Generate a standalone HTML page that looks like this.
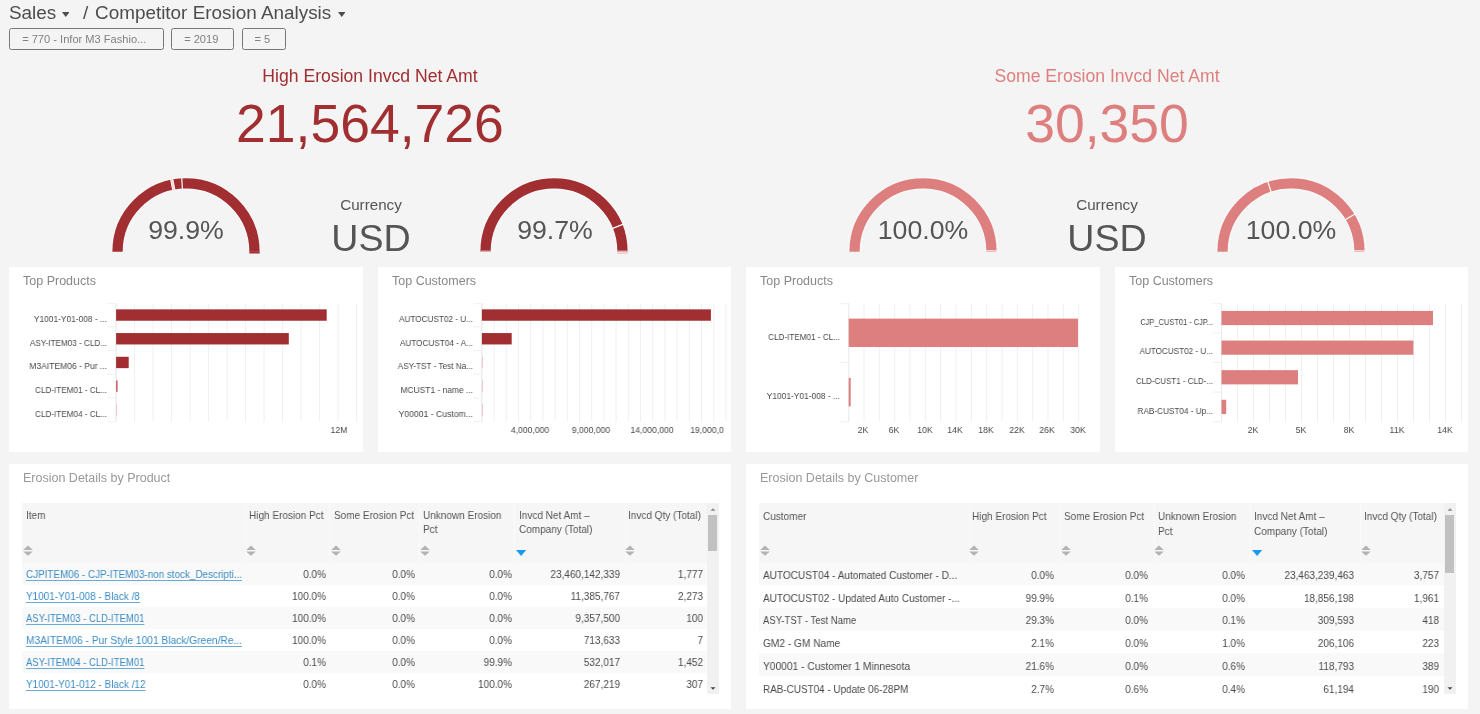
<!DOCTYPE html>
<html><head><meta charset="utf-8"><style>
html,body{margin:0;padding:0;}
body{width:1480px;height:714px;background:#f4f4f4;position:relative;overflow:hidden;font-family:"Liberation Sans",sans-serif;}
.t{position:absolute;white-space:nowrap;will-change:transform;}
.r{position:absolute;}
.filt{box-sizing:border-box;border:1.4px solid #777;border-radius:2.5px;}
</style></head><body>
<div class="t" style="left:9.3px;top:3.80px;font-size:18.9px;line-height:18.9px;color:#4d4d4d;">Sales</div>
<div class="t" style="left:82.8px;top:3.80px;font-size:18.9px;line-height:18.9px;color:#4d4d4d;">/</div>
<div class="t" style="left:95.2px;top:3.80px;font-size:18.9px;line-height:18.9px;color:#4d4d4d;">Competitor Erosion Analysis</div>
<svg class="r" style="left:61.8px;top:11.8px" width="7.5" height="5"><path d="M0 0H7.5L3.75 5Z" fill="#4d4d4d"/></svg>
<svg class="r" style="left:337.5px;top:12px" width="7.5" height="5"><path d="M0 0H7.5L3.75 5Z" fill="#4d4d4d"/></svg>
<div class="r filt" style="left:9px;top:28px;width:154.5px;height:21.5px;"></div>
<div class="t" style="left:7.299999999999997px;width:154.5px;text-align:center;top:33.90px;font-size:11.1px;line-height:11.1px;color:#808080;">= 770 - Infor M3 Fashio...</div>
<div class="r filt" style="left:171.2px;top:28px;width:62.5px;height:21.5px;"></div>
<div class="t" style="left:169.5px;width:62.5px;text-align:center;top:33.90px;font-size:11.1px;line-height:11.1px;color:#808080;">= 2019</div>
<div class="r filt" style="left:241.5px;top:28px;width:44.5px;height:21.5px;"></div>
<div class="t" style="left:239.8px;width:44.5px;text-align:center;top:33.90px;font-size:11.1px;line-height:11.1px;color:#808080;">= 5</div>
<div class="t" style="left:170.2px;width:400px;text-align:center;top:67.78px;font-size:17.62px;line-height:17.62px;color:#a12e30;">High Erosion Invcd Net Amt</div>
<div class="t" style="left:119.69999999999999px;width:500px;text-align:center;top:96.81px;font-size:53.5px;line-height:53.5px;color:#a12e30;">21,564,726</div>
<svg class="r" style="left:106.0px;top:170px" width="160" height="90"><path d="M11.5 81.8 A68.5 68.5 0 0 1 148.5 81.8" fill="none" stroke="#fff" stroke-width="11.700000000000001"/><path d="M11.5 81.8 A68.5 68.5 0 0 1 148.5 81.8" fill="none" stroke="#a12e30" stroke-width="10.3"/><line x1="67.89" y1="20.34" x2="65.50" y2="8.27" stroke="#fff" stroke-width="3.2"/><line x1="67.89" y1="20.34" x2="65.50" y2="8.27" stroke="#f3d0d0" stroke-width="1.4"/><line x1="76.41" y1="19.25" x2="75.70" y2="6.97" stroke="#fff" stroke-width="1.2"/><rect x="143.35" y="81.50" width="10.3" height="2" fill="#a12e30"/></svg>
<svg class="r" style="left:474.29999999999995px;top:170px" width="160" height="90"><path d="M11.5 81.8 A68.5 68.5 0 0 1 148.5 81.8" fill="none" stroke="#fff" stroke-width="11.700000000000001"/><path d="M11.5 81.8 A68.5 68.5 0 0 1 148.5 81.8" fill="none" stroke="#a12e30" stroke-width="10.3"/><line x1="138.01" y1="58.65" x2="149.46" y2="54.14" stroke="#fff" stroke-width="1.2"/><rect x="6.35" y="80.60" width="10.3" height="1.2" fill="#e8c0c0"/><rect x="143.35" y="80.60" width="10.3" height="1.2" fill="#e8c0c0"/><rect x="143.35" y="82.60" width="10.3" height="1" fill="#e8b0b0"/></svg>
<div class="t" style="left:106.0px;width:160px;text-align:center;top:217.00px;font-size:26.7px;line-height:26.7px;color:#555;">99.9%</div>
<div class="t" style="left:474.5px;width:160px;text-align:center;top:217.00px;font-size:26.7px;line-height:26.7px;color:#555;">99.7%</div>
<div class="t" style="left:290.5px;width:160px;text-align:center;top:197.43px;font-size:15.2px;line-height:15.2px;color:#555;">Currency</div>
<div class="t" style="left:290.5px;width:160px;text-align:center;top:220.17px;font-size:37.6px;line-height:37.6px;color:#555;">USD</div>
<div class="t" style="left:906.9000000000001px;width:400px;text-align:center;top:67.78px;font-size:17.62px;line-height:17.62px;color:#de7f7f;">Some Erosion Invcd Net Amt</div>
<div class="t" style="left:857.2px;width:500px;text-align:center;top:96.81px;font-size:53.5px;line-height:53.5px;color:#de7f7f;">30,350</div>
<svg class="r" style="left:842.7px;top:170px" width="160" height="90"><path d="M11.5 81.8 A68.5 68.5 0 0 1 148.5 81.8" fill="none" stroke="#fff" stroke-width="11.700000000000001"/><path d="M11.5 81.8 A68.5 68.5 0 0 1 148.5 81.8" fill="none" stroke="#de7f7f" stroke-width="10.3"/><rect x="143.35" y="80.30" width="10.3" height="1" fill="#fff"/></svg>
<svg class="r" style="left:1211.4px;top:170px" width="160" height="90"><path d="M11.5 81.8 A68.5 68.5 0 0 1 148.5 81.8" fill="none" stroke="#fff" stroke-width="11.700000000000001"/><path d="M11.5 81.8 A68.5 68.5 0 0 1 148.5 81.8" fill="none" stroke="#de7f7f" stroke-width="10.3"/><line x1="60.32" y1="22.34" x2="56.44" y2="10.67" stroke="#fff" stroke-width="1.2"/><line x1="133.83" y1="50.04" x2="144.45" y2="43.84" stroke="#fff" stroke-width="1.2"/><rect x="143.35" y="80.30" width="10.3" height="1" fill="#fff"/></svg>
<div class="t" style="left:842.7px;width:160px;text-align:center;top:217.00px;font-size:26.7px;line-height:26.7px;color:#555;">100.0%</div>
<div class="t" style="left:1211.2px;width:160px;text-align:center;top:217.00px;font-size:26.7px;line-height:26.7px;color:#555;">100.0%</div>
<div class="t" style="left:1027.2px;width:160px;text-align:center;top:197.43px;font-size:15.2px;line-height:15.2px;color:#555;">Currency</div>
<div class="t" style="left:1027.2px;width:160px;text-align:center;top:220.17px;font-size:37.6px;line-height:37.6px;color:#555;">USD</div>
<div class="r" style="left:9px;top:267px;width:354px;height:185px;background:#fff;"></div>
<div class="t" style="left:23px;top:274.72px;font-size:12.5px;line-height:12.5px;color:#888;">Top Products</div>
<svg class="r" style="left:0;top:0" width="1480" height="714"><rect x="115.60" y="303.2" width="1" height="118.5" fill="#f0f0f0"/><rect x="134.10" y="303.2" width="1" height="118.5" fill="#f0f0f0"/><rect x="152.60" y="303.2" width="1" height="118.5" fill="#f0f0f0"/><rect x="171.10" y="303.2" width="1" height="118.5" fill="#f0f0f0"/><rect x="189.60" y="303.2" width="1" height="118.5" fill="#f0f0f0"/><rect x="208.10" y="303.2" width="1" height="118.5" fill="#f0f0f0"/><rect x="226.60" y="303.2" width="1" height="118.5" fill="#f0f0f0"/><rect x="245.10" y="303.2" width="1" height="118.5" fill="#f0f0f0"/><rect x="263.60" y="303.2" width="1" height="118.5" fill="#f0f0f0"/><rect x="282.10" y="303.2" width="1" height="118.5" fill="#f0f0f0"/><rect x="300.60" y="303.2" width="1" height="118.5" fill="#f0f0f0"/><rect x="319.10" y="303.2" width="1" height="118.5" fill="#f0f0f0"/><rect x="337.60" y="303.2" width="1" height="118.5" fill="#f0f0f0"/><rect x="356.10" y="303.2" width="1" height="118.5" fill="#f0f0f0"/><rect x="107.60" y="303.2" width="8" height="1" fill="#f0f0f0"/><rect x="107.60" y="326.40" width="8" height="1" fill="#f0f0f0"/><rect x="107.60" y="350.10" width="8" height="1" fill="#f0f0f0"/><rect x="107.60" y="373.80" width="8" height="1" fill="#f0f0f0"/><rect x="107.60" y="397.50" width="8" height="1" fill="#f0f0f0"/><rect x="107.60" y="421.20" width="8" height="1" fill="#f0f0f0"/><rect x="115.60" y="303.2" width="1" height="118.5" fill="#ebebeb"/><rect x="116.10" y="309.36" width="210.60" height="11.38" fill="#a12e30"/><rect x="116.10" y="333.06" width="172.70" height="11.38" fill="#a12e30"/><rect x="116.10" y="356.76" width="12.60" height="11.38" fill="#a12e30"/><rect x="116.10" y="380.46" width="1.50" height="11.38" fill="#c55a5d"/><rect x="116.10" y="404.16" width="1.00" height="11.38" fill="#f2c4c4"/></svg>
<div class="t" style="left:-12.900000000000006px;width:120px;text-align:right;transform:scaleX(0.932);transform-origin:right;top:314.83px;font-size:9px;line-height:9px;color:#484848;">Y1001-Y01-008 - ...</div>
<div class="t" style="left:-12.900000000000006px;width:120px;text-align:right;transform:scaleX(0.904);transform-origin:right;top:338.53px;font-size:9px;line-height:9px;color:#484848;">ASY-ITEM03 - CLD...</div>
<div class="t" style="left:-12.900000000000006px;width:120px;text-align:right;transform:scaleX(0.947);transform-origin:right;top:362.23px;font-size:9px;line-height:9px;color:#484848;">M3AITEM06 - Pur ...</div>
<div class="t" style="left:-12.900000000000006px;width:120px;text-align:right;transform:scaleX(0.905);transform-origin:right;top:385.93px;font-size:9px;line-height:9px;color:#484848;">CLD-ITEM01 - CL...</div>
<div class="t" style="left:-12.900000000000006px;width:120px;text-align:right;transform:scaleX(0.905);transform-origin:right;top:409.63px;font-size:9px;line-height:9px;color:#484848;">CLD-ITEM04 - CL...</div>
<div class="t" style="left:298.5px;width:80px;text-align:center;transform:scaleX(0.96);transform-origin:center;top:426.38px;font-size:9px;line-height:9px;color:#484848;">12M</div>
<div class="r" style="left:378px;top:267px;width:353px;height:185px;background:#fff;"></div>
<div class="t" style="left:392px;top:274.72px;font-size:12.5px;line-height:12.5px;color:#888;">Top Customers</div>
<svg class="r" style="left:0;top:0" width="1480" height="714"><rect x="481.40" y="303.2" width="1" height="118.5" fill="#f0f0f0"/><rect x="493.60" y="303.2" width="1" height="118.5" fill="#f0f0f0"/><rect x="505.80" y="303.2" width="1" height="118.5" fill="#f0f0f0"/><rect x="518.00" y="303.2" width="1" height="118.5" fill="#f0f0f0"/><rect x="530.20" y="303.2" width="1" height="118.5" fill="#f0f0f0"/><rect x="542.40" y="303.2" width="1" height="118.5" fill="#f0f0f0"/><rect x="554.60" y="303.2" width="1" height="118.5" fill="#f0f0f0"/><rect x="566.80" y="303.2" width="1" height="118.5" fill="#f0f0f0"/><rect x="579.00" y="303.2" width="1" height="118.5" fill="#f0f0f0"/><rect x="591.20" y="303.2" width="1" height="118.5" fill="#f0f0f0"/><rect x="603.40" y="303.2" width="1" height="118.5" fill="#f0f0f0"/><rect x="615.60" y="303.2" width="1" height="118.5" fill="#f0f0f0"/><rect x="627.80" y="303.2" width="1" height="118.5" fill="#f0f0f0"/><rect x="640.00" y="303.2" width="1" height="118.5" fill="#f0f0f0"/><rect x="652.20" y="303.2" width="1" height="118.5" fill="#f0f0f0"/><rect x="664.40" y="303.2" width="1" height="118.5" fill="#f0f0f0"/><rect x="676.60" y="303.2" width="1" height="118.5" fill="#f0f0f0"/><rect x="688.80" y="303.2" width="1" height="118.5" fill="#f0f0f0"/><rect x="701.00" y="303.2" width="1" height="118.5" fill="#f0f0f0"/><rect x="713.20" y="303.2" width="1" height="118.5" fill="#f0f0f0"/><rect x="725.40" y="303.2" width="1" height="118.5" fill="#f0f0f0"/><rect x="473.40" y="303.2" width="8" height="1" fill="#f0f0f0"/><rect x="473.40" y="326.40" width="8" height="1" fill="#f0f0f0"/><rect x="473.40" y="350.10" width="8" height="1" fill="#f0f0f0"/><rect x="473.40" y="373.80" width="8" height="1" fill="#f0f0f0"/><rect x="473.40" y="397.50" width="8" height="1" fill="#f0f0f0"/><rect x="473.40" y="421.20" width="8" height="1" fill="#f0f0f0"/><rect x="481.40" y="303.2" width="1" height="118.5" fill="#ebebeb"/><rect x="481.90" y="309.36" width="229.00" height="11.38" fill="#a12e30"/><rect x="481.90" y="333.06" width="29.80" height="11.38" fill="#a12e30"/><rect x="481.90" y="356.76" width="1.00" height="11.38" fill="#f2c4c4"/><rect x="481.90" y="380.46" width="1.00" height="11.38" fill="#f2c4c4"/><rect x="481.90" y="404.16" width="1.00" height="11.38" fill="#f2c4c4"/></svg>
<div class="t" style="left:352.9px;width:120px;text-align:right;transform:scaleX(0.91);transform-origin:right;top:314.83px;font-size:9px;line-height:9px;color:#484848;">AUTOCUST02 - U...</div>
<div class="t" style="left:352.9px;width:120px;text-align:right;transform:scaleX(0.911);transform-origin:right;top:338.53px;font-size:9px;line-height:9px;color:#484848;">AUTOCUST04 - A...</div>
<div class="t" style="left:352.9px;width:120px;text-align:right;transform:scaleX(0.909);transform-origin:right;top:362.23px;font-size:9px;line-height:9px;color:#484848;">ASY-TST - Test Na...</div>
<div class="t" style="left:352.9px;width:120px;text-align:right;transform:scaleX(0.936);transform-origin:right;top:385.93px;font-size:9px;line-height:9px;color:#484848;">MCUST1 - name ...</div>
<div class="t" style="left:352.9px;width:120px;text-align:right;transform:scaleX(0.961);transform-origin:right;top:409.63px;font-size:9px;line-height:9px;color:#484848;">Y00001 - Custom...</div>
<div class="t" style="left:489.9px;width:80px;text-align:center;transform:scaleX(0.96);transform-origin:center;top:426.38px;font-size:9px;line-height:9px;color:#484848;">4,000,000</div>
<div class="t" style="left:551.0px;width:80px;text-align:center;transform:scaleX(0.96);transform-origin:center;top:426.38px;font-size:9px;line-height:9px;color:#484848;">9,000,000</div>
<div class="t" style="left:612.1px;width:80px;text-align:center;transform:scaleX(0.96);transform-origin:center;top:426.38px;font-size:9px;line-height:9px;color:#484848;">14,000,000</div>
<div class="t" style="left:667.0px;width:80px;text-align:center;transform:scaleX(0.96);transform-origin:center;top:426.38px;font-size:9px;line-height:9px;color:#484848;">19,000,0</div>
<div class="r" style="left:746px;top:267px;width:354px;height:185px;background:#fff;"></div>
<div class="t" style="left:760px;top:274.72px;font-size:12.5px;line-height:12.5px;color:#888;">Top Products</div>
<svg class="r" style="left:0;top:0" width="1480" height="714"><rect x="848.20" y="303.2" width="1" height="118.5" fill="#f0f0f0"/><rect x="863.53" y="303.2" width="1" height="118.5" fill="#f0f0f0"/><rect x="878.86" y="303.2" width="1" height="118.5" fill="#f0f0f0"/><rect x="894.19" y="303.2" width="1" height="118.5" fill="#f0f0f0"/><rect x="909.52" y="303.2" width="1" height="118.5" fill="#f0f0f0"/><rect x="924.85" y="303.2" width="1" height="118.5" fill="#f0f0f0"/><rect x="940.18" y="303.2" width="1" height="118.5" fill="#f0f0f0"/><rect x="955.51" y="303.2" width="1" height="118.5" fill="#f0f0f0"/><rect x="970.84" y="303.2" width="1" height="118.5" fill="#f0f0f0"/><rect x="986.17" y="303.2" width="1" height="118.5" fill="#f0f0f0"/><rect x="1001.50" y="303.2" width="1" height="118.5" fill="#f0f0f0"/><rect x="1016.83" y="303.2" width="1" height="118.5" fill="#f0f0f0"/><rect x="1032.16" y="303.2" width="1" height="118.5" fill="#f0f0f0"/><rect x="1047.49" y="303.2" width="1" height="118.5" fill="#f0f0f0"/><rect x="1062.82" y="303.2" width="1" height="118.5" fill="#f0f0f0"/><rect x="1078.15" y="303.2" width="1" height="118.5" fill="#f0f0f0"/><rect x="840.20" y="303.2" width="8" height="1" fill="#f0f0f0"/><rect x="840.20" y="361.95" width="8" height="1" fill="#f0f0f0"/><rect x="840.20" y="421.20" width="8" height="1" fill="#f0f0f0"/><rect x="848.20" y="303.2" width="1" height="118.5" fill="#ebebeb"/><rect x="848.70" y="318.61" width="229.30" height="28.44" fill="#de7f7f"/><rect x="848.70" y="377.86" width="2.00" height="28.44" fill="#de7f7f"/></svg>
<div class="t" style="left:719.7px;width:120px;text-align:right;transform:scaleX(0.904);transform-origin:right;top:332.61px;font-size:9px;line-height:9px;color:#484848;">CLD-ITEM01 - CL...</div>
<div class="t" style="left:719.7px;width:120px;text-align:right;transform:scaleX(0.934);transform-origin:right;top:391.86px;font-size:9px;line-height:9px;color:#484848;">Y1001-Y01-008 - ...</div>
<div class="t" style="left:823.4px;width:80px;text-align:center;transform:scaleX(0.96);transform-origin:center;top:426.38px;font-size:9px;line-height:9px;color:#484848;">2K</div>
<div class="t" style="left:854.0px;width:80px;text-align:center;transform:scaleX(0.96);transform-origin:center;top:426.38px;font-size:9px;line-height:9px;color:#484848;">6K</div>
<div class="t" style="left:884.7px;width:80px;text-align:center;transform:scaleX(0.96);transform-origin:center;top:426.38px;font-size:9px;line-height:9px;color:#484848;">10K</div>
<div class="t" style="left:915.3px;width:80px;text-align:center;transform:scaleX(0.96);transform-origin:center;top:426.38px;font-size:9px;line-height:9px;color:#484848;">14K</div>
<div class="t" style="left:946.0px;width:80px;text-align:center;transform:scaleX(0.96);transform-origin:center;top:426.38px;font-size:9px;line-height:9px;color:#484848;">18K</div>
<div class="t" style="left:976.7px;width:80px;text-align:center;transform:scaleX(0.96);transform-origin:center;top:426.38px;font-size:9px;line-height:9px;color:#484848;">22K</div>
<div class="t" style="left:1007.3px;width:80px;text-align:center;transform:scaleX(0.96);transform-origin:center;top:426.38px;font-size:9px;line-height:9px;color:#484848;">26K</div>
<div class="t" style="left:1038.0px;width:80px;text-align:center;transform:scaleX(0.96);transform-origin:center;top:426.38px;font-size:9px;line-height:9px;color:#484848;">30K</div>
<div class="r" style="left:1115px;top:267px;width:353px;height:185px;background:#fff;"></div>
<div class="t" style="left:1129px;top:274.72px;font-size:12.5px;line-height:12.5px;color:#888;">Top Customers</div>
<svg class="r" style="left:0;top:0" width="1480" height="714"><rect x="1221.00" y="303.2" width="1" height="118.5" fill="#f0f0f0"/><rect x="1237.00" y="303.2" width="1" height="118.5" fill="#f0f0f0"/><rect x="1253.00" y="303.2" width="1" height="118.5" fill="#f0f0f0"/><rect x="1269.00" y="303.2" width="1" height="118.5" fill="#f0f0f0"/><rect x="1285.00" y="303.2" width="1" height="118.5" fill="#f0f0f0"/><rect x="1301.00" y="303.2" width="1" height="118.5" fill="#f0f0f0"/><rect x="1317.00" y="303.2" width="1" height="118.5" fill="#f0f0f0"/><rect x="1333.00" y="303.2" width="1" height="118.5" fill="#f0f0f0"/><rect x="1349.00" y="303.2" width="1" height="118.5" fill="#f0f0f0"/><rect x="1365.00" y="303.2" width="1" height="118.5" fill="#f0f0f0"/><rect x="1381.00" y="303.2" width="1" height="118.5" fill="#f0f0f0"/><rect x="1397.00" y="303.2" width="1" height="118.5" fill="#f0f0f0"/><rect x="1413.00" y="303.2" width="1" height="118.5" fill="#f0f0f0"/><rect x="1429.00" y="303.2" width="1" height="118.5" fill="#f0f0f0"/><rect x="1445.00" y="303.2" width="1" height="118.5" fill="#f0f0f0"/><rect x="1461.00" y="303.2" width="1" height="118.5" fill="#f0f0f0"/><rect x="1213.00" y="303.2" width="8" height="1" fill="#f0f0f0"/><rect x="1213.00" y="332.32" width="8" height="1" fill="#f0f0f0"/><rect x="1213.00" y="361.95" width="8" height="1" fill="#f0f0f0"/><rect x="1213.00" y="391.57" width="8" height="1" fill="#f0f0f0"/><rect x="1213.00" y="421.20" width="8" height="1" fill="#f0f0f0"/><rect x="1221.00" y="303.2" width="1" height="118.5" fill="#ebebeb"/><rect x="1221.50" y="310.90" width="211.50" height="14.22" fill="#de7f7f"/><rect x="1221.50" y="340.53" width="191.90" height="14.22" fill="#de7f7f"/><rect x="1221.50" y="370.15" width="76.50" height="14.22" fill="#de7f7f"/><rect x="1221.50" y="399.78" width="4.70" height="14.22" fill="#de7f7f"/></svg>
<div class="t" style="left:1092.5px;width:120px;text-align:right;transform:scaleX(0.827);transform-origin:right;top:317.79px;font-size:9px;line-height:9px;color:#484848;">CJP_CUST01 - CJP...</div>
<div class="t" style="left:1092.5px;width:120px;text-align:right;transform:scaleX(0.904);transform-origin:right;top:347.42px;font-size:9px;line-height:9px;color:#484848;">AUTOCUST02 - U...</div>
<div class="t" style="left:1092.5px;width:120px;text-align:right;transform:scaleX(0.886);transform-origin:right;top:377.04px;font-size:9px;line-height:9px;color:#484848;">CLD-CUST1 - CLD-...</div>
<div class="t" style="left:1092.5px;width:120px;text-align:right;transform:scaleX(0.909);transform-origin:right;top:406.67px;font-size:9px;line-height:9px;color:#484848;">RAB-CUST04 - Up...</div>
<div class="t" style="left:1213.0px;width:80px;text-align:center;transform:scaleX(0.96);transform-origin:center;top:426.38px;font-size:9px;line-height:9px;color:#484848;">2K</div>
<div class="t" style="left:1260.9px;width:80px;text-align:center;transform:scaleX(0.96);transform-origin:center;top:426.38px;font-size:9px;line-height:9px;color:#484848;">5K</div>
<div class="t" style="left:1309.0px;width:80px;text-align:center;transform:scaleX(0.96);transform-origin:center;top:426.38px;font-size:9px;line-height:9px;color:#484848;">8K</div>
<div class="t" style="left:1357.0px;width:80px;text-align:center;transform:scaleX(0.96);transform-origin:center;top:426.38px;font-size:9px;line-height:9px;color:#484848;">11K</div>
<div class="t" style="left:1405.2px;width:80px;text-align:center;transform:scaleX(0.96);transform-origin:center;top:426.38px;font-size:9px;line-height:9px;color:#484848;">14K</div>
<div class="r" style="left:9px;top:464px;width:722px;height:244.5px;background:#fff;"></div>
<div class="t" style="left:22.7px;top:472.12px;font-size:12.5px;line-height:12.5px;color:#999;">Erosion Details by Product</div>
<div class="r" style="left:22px;top:503.2px;width:685px;height:59.50000000000006px;background:#f6f6f6;"></div>
<div class="r" style="left:246px;top:503.2px;width:1px;height:59.50000000000006px;background:#fafafa;"></div>
<div class="r" style="left:329px;top:503.2px;width:1px;height:59.50000000000006px;background:#fafafa;"></div>
<div class="r" style="left:419.2px;top:503.2px;width:1px;height:59.50000000000006px;background:#fafafa;"></div>
<div class="r" style="left:514px;top:503.2px;width:1px;height:59.50000000000006px;background:#fafafa;"></div>
<div class="r" style="left:625px;top:503.2px;width:1px;height:59.50000000000006px;background:#fafafa;"></div>
<div class="r" style="left:22px;top:562.7px;width:685px;height:22.0px;background:#f9f9f9;"></div>
<div class="t" style="left:26px;transform:scaleX(0.897);transform-origin:left;top:568.69px;font-size:11px;line-height:11px;color:#3a8cc4;text-decoration:underline;text-underline-offset:2px;text-decoration-color:#6aaad6;">CJPITEM06 - CJP-ITEM03-non stock_Descripti...</div>
<div class="t" style="left:176.3px;width:150px;text-align:right;transform:scaleX(0.91);transform-origin:right;top:568.69px;font-size:11px;line-height:11px;color:#4a4a4a;">0.0%</div>
<div class="t" style="left:265.3px;width:150px;text-align:right;transform:scaleX(0.91);transform-origin:right;top:568.69px;font-size:11px;line-height:11px;color:#4a4a4a;">0.0%</div>
<div class="t" style="left:361.5px;width:150px;text-align:right;transform:scaleX(0.91);transform-origin:right;top:568.69px;font-size:11px;line-height:11px;color:#4a4a4a;">0.0%</div>
<div class="t" style="left:470px;width:150px;text-align:right;transform:scaleX(0.91);transform-origin:right;top:568.69px;font-size:11px;line-height:11px;color:#4a4a4a;">23,460,142,339</div>
<div class="t" style="left:552.5px;width:150px;text-align:right;transform:scaleX(0.91);transform-origin:right;top:568.69px;font-size:11px;line-height:11px;color:#4a4a4a;">1,777</div>
<div class="t" style="left:26px;transform:scaleX(0.904);transform-origin:left;top:590.69px;font-size:11px;line-height:11px;color:#3a8cc4;text-decoration:underline;text-underline-offset:2px;text-decoration-color:#6aaad6;">Y1001-Y01-008 - Black /8</div>
<div class="t" style="left:176.3px;width:150px;text-align:right;transform:scaleX(0.91);transform-origin:right;top:590.69px;font-size:11px;line-height:11px;color:#4a4a4a;">100.0%</div>
<div class="t" style="left:265.3px;width:150px;text-align:right;transform:scaleX(0.91);transform-origin:right;top:590.69px;font-size:11px;line-height:11px;color:#4a4a4a;">0.0%</div>
<div class="t" style="left:361.5px;width:150px;text-align:right;transform:scaleX(0.91);transform-origin:right;top:590.69px;font-size:11px;line-height:11px;color:#4a4a4a;">0.0%</div>
<div class="t" style="left:470px;width:150px;text-align:right;transform:scaleX(0.91);transform-origin:right;top:590.69px;font-size:11px;line-height:11px;color:#4a4a4a;">11,385,767</div>
<div class="t" style="left:552.5px;width:150px;text-align:right;transform:scaleX(0.91);transform-origin:right;top:590.69px;font-size:11px;line-height:11px;color:#4a4a4a;">2,273</div>
<div class="r" style="left:22px;top:606.7px;width:685px;height:22.0px;background:#f9f9f9;"></div>
<div class="t" style="left:26px;transform:scaleX(0.863);transform-origin:left;top:612.69px;font-size:11px;line-height:11px;color:#3a8cc4;text-decoration:underline;text-underline-offset:2px;text-decoration-color:#6aaad6;">ASY-ITEM03 - CLD-ITEM01</div>
<div class="t" style="left:176.3px;width:150px;text-align:right;transform:scaleX(0.91);transform-origin:right;top:612.69px;font-size:11px;line-height:11px;color:#4a4a4a;">100.0%</div>
<div class="t" style="left:265.3px;width:150px;text-align:right;transform:scaleX(0.91);transform-origin:right;top:612.69px;font-size:11px;line-height:11px;color:#4a4a4a;">0.0%</div>
<div class="t" style="left:361.5px;width:150px;text-align:right;transform:scaleX(0.91);transform-origin:right;top:612.69px;font-size:11px;line-height:11px;color:#4a4a4a;">0.0%</div>
<div class="t" style="left:470px;width:150px;text-align:right;transform:scaleX(0.91);transform-origin:right;top:612.69px;font-size:11px;line-height:11px;color:#4a4a4a;">9,357,500</div>
<div class="t" style="left:552.5px;width:150px;text-align:right;transform:scaleX(0.91);transform-origin:right;top:612.69px;font-size:11px;line-height:11px;color:#4a4a4a;">100</div>
<div class="t" style="left:26px;transform:scaleX(0.927);transform-origin:left;top:634.69px;font-size:11px;line-height:11px;color:#3a8cc4;text-decoration:underline;text-underline-offset:2px;text-decoration-color:#6aaad6;">M3AITEM06 - Pur Style 1001 Black/Green/Re...</div>
<div class="t" style="left:176.3px;width:150px;text-align:right;transform:scaleX(0.91);transform-origin:right;top:634.69px;font-size:11px;line-height:11px;color:#4a4a4a;">100.0%</div>
<div class="t" style="left:265.3px;width:150px;text-align:right;transform:scaleX(0.91);transform-origin:right;top:634.69px;font-size:11px;line-height:11px;color:#4a4a4a;">0.0%</div>
<div class="t" style="left:361.5px;width:150px;text-align:right;transform:scaleX(0.91);transform-origin:right;top:634.69px;font-size:11px;line-height:11px;color:#4a4a4a;">0.0%</div>
<div class="t" style="left:470px;width:150px;text-align:right;transform:scaleX(0.91);transform-origin:right;top:634.69px;font-size:11px;line-height:11px;color:#4a4a4a;">713,633</div>
<div class="t" style="left:552.5px;width:150px;text-align:right;transform:scaleX(0.91);transform-origin:right;top:634.69px;font-size:11px;line-height:11px;color:#4a4a4a;">7</div>
<div class="r" style="left:22px;top:650.7px;width:685px;height:22.0px;background:#f9f9f9;"></div>
<div class="t" style="left:26px;transform:scaleX(0.863);transform-origin:left;top:656.69px;font-size:11px;line-height:11px;color:#3a8cc4;text-decoration:underline;text-underline-offset:2px;text-decoration-color:#6aaad6;">ASY-ITEM04 - CLD-ITEM01</div>
<div class="t" style="left:176.3px;width:150px;text-align:right;transform:scaleX(0.91);transform-origin:right;top:656.69px;font-size:11px;line-height:11px;color:#4a4a4a;">0.1%</div>
<div class="t" style="left:265.3px;width:150px;text-align:right;transform:scaleX(0.91);transform-origin:right;top:656.69px;font-size:11px;line-height:11px;color:#4a4a4a;">0.0%</div>
<div class="t" style="left:361.5px;width:150px;text-align:right;transform:scaleX(0.91);transform-origin:right;top:656.69px;font-size:11px;line-height:11px;color:#4a4a4a;">99.9%</div>
<div class="t" style="left:470px;width:150px;text-align:right;transform:scaleX(0.91);transform-origin:right;top:656.69px;font-size:11px;line-height:11px;color:#4a4a4a;">532,017</div>
<div class="t" style="left:552.5px;width:150px;text-align:right;transform:scaleX(0.91);transform-origin:right;top:656.69px;font-size:11px;line-height:11px;color:#4a4a4a;">1,452</div>
<div class="t" style="left:26px;transform:scaleX(0.905);transform-origin:left;top:678.69px;font-size:11px;line-height:11px;color:#3a8cc4;text-decoration:underline;text-underline-offset:2px;text-decoration-color:#6aaad6;">Y1001-Y01-012 - Black /12</div>
<div class="t" style="left:176.3px;width:150px;text-align:right;transform:scaleX(0.91);transform-origin:right;top:678.69px;font-size:11px;line-height:11px;color:#4a4a4a;">0.0%</div>
<div class="t" style="left:265.3px;width:150px;text-align:right;transform:scaleX(0.91);transform-origin:right;top:678.69px;font-size:11px;line-height:11px;color:#4a4a4a;">0.0%</div>
<div class="t" style="left:361.5px;width:150px;text-align:right;transform:scaleX(0.91);transform-origin:right;top:678.69px;font-size:11px;line-height:11px;color:#4a4a4a;">100.0%</div>
<div class="t" style="left:470px;width:150px;text-align:right;transform:scaleX(0.91);transform-origin:right;top:678.69px;font-size:11px;line-height:11px;color:#4a4a4a;">267,219</div>
<div class="t" style="left:552.5px;width:150px;text-align:right;transform:scaleX(0.91);transform-origin:right;top:678.69px;font-size:11px;line-height:11px;color:#4a4a4a;">307</div>
<div class="t" style="left:26.1px;transform:scaleX(0.91);transform-origin:left;top:509.59px;font-size:11px;line-height:11px;color:#555;">Item</div>
<svg class="r" style="left:22px;top:544.8px" width="12" height="12"><path d="M1.2 5H10.8L6 0.6Z M1.2 6.4H10.8L6 10.8Z" fill="#b3b3b3"/></svg>
<div class="t" style="left:249.4px;transform:scaleX(0.91);transform-origin:left;top:509.59px;font-size:11px;line-height:11px;color:#555;">High Erosion Pct</div>
<svg class="r" style="left:244.9px;top:544.8px" width="12" height="12"><path d="M1.2 5H10.8L6 0.6Z M1.2 6.4H10.8L6 10.8Z" fill="#b3b3b3"/></svg>
<div class="t" style="left:334px;transform:scaleX(0.91);transform-origin:left;top:509.59px;font-size:11px;line-height:11px;color:#555;">Some Erosion Pct</div>
<svg class="r" style="left:329.5px;top:544.8px" width="12" height="12"><path d="M1.2 5H10.8L6 0.6Z M1.2 6.4H10.8L6 10.8Z" fill="#b3b3b3"/></svg>
<div class="t" style="left:423.2px;transform:scaleX(0.91);transform-origin:left;top:509.59px;font-size:11px;line-height:11px;color:#555;">Unknown Erosion</div>
<div class="t" style="left:423.2px;transform:scaleX(0.91);transform-origin:left;top:524.39px;font-size:11px;line-height:11px;color:#555;">Pct</div>
<svg class="r" style="left:418.7px;top:544.8px" width="12" height="12"><path d="M1.2 5H10.8L6 0.6Z M1.2 6.4H10.8L6 10.8Z" fill="#b3b3b3"/></svg>
<div class="t" style="left:519.1px;transform:scaleX(0.91);transform-origin:left;top:509.59px;font-size:11px;line-height:11px;color:#555;">Invcd Net Amt –</div>
<div class="t" style="left:519.1px;transform:scaleX(0.91);transform-origin:left;top:524.39px;font-size:11px;line-height:11px;color:#555;">Company (Total)</div>
<svg class="r" style="left:516.3000000000001px;top:550.4px" width="12" height="8"><path d="M0 0H10.2L5.1 6Z" fill="#1a9bf0"/></svg>
<div class="t" style="left:628px;transform:scaleX(0.91);transform-origin:left;top:509.59px;font-size:11px;line-height:11px;color:#555;">Invcd Qty (Total)</div>
<svg class="r" style="left:623.5px;top:544.8px" width="12" height="12"><path d="M1.2 5H10.8L6 0.6Z M1.2 6.4H10.8L6 10.8Z" fill="#b3b3b3"/></svg>
<div class="r" style="left:706.8px;top:503.2px;width:11.8px;height:191px;background:#f1f1f1;"></div>
<div class="r" style="left:708px;top:515.3px;width:9px;height:35.7px;background:#c1c1c1;"></div>
<svg class="r" style="left:708.7px;top:507px" width="8" height="5"><path d="M1.5 3.8H6.5L4 1.2Z" fill="#888"/></svg>
<svg class="r" style="left:708.7px;top:685.5px" width="8" height="5"><path d="M1.5 1.2H6.5L4 3.8Z" fill="#444"/></svg>
<div class="r" style="left:746px;top:464px;width:722px;height:244.5px;background:#fff;"></div>
<div class="t" style="left:759.7px;top:472.12px;font-size:12.5px;line-height:12.5px;color:#999;">Erosion Details by Customer</div>
<div class="r" style="left:759px;top:503.2px;width:685px;height:59.400000000000034px;background:#f6f6f6;"></div>
<div class="r" style="left:968.6px;top:503.2px;width:1px;height:59.400000000000034px;background:#fafafa;"></div>
<div class="r" style="left:1060.3px;top:503.2px;width:1px;height:59.400000000000034px;background:#fafafa;"></div>
<div class="r" style="left:1153.5px;top:503.2px;width:1px;height:59.400000000000034px;background:#fafafa;"></div>
<div class="r" style="left:1250.3px;top:503.2px;width:1px;height:59.400000000000034px;background:#fafafa;"></div>
<div class="r" style="left:1359.6px;top:503.2px;width:1px;height:59.400000000000034px;background:#fafafa;"></div>
<div class="r" style="left:759px;top:562.6px;width:685px;height:22.7px;background:#f9f9f9;"></div>
<div class="t" style="left:763.3px;transform:scaleX(0.914);transform-origin:left;top:570.09px;font-size:11px;line-height:11px;color:#4a4a4a;">AUTOCUST04 - Automated Customer - D...</div>
<div class="t" style="left:904.0999999999999px;width:150px;text-align:right;transform:scaleX(0.91);transform-origin:right;top:570.09px;font-size:11px;line-height:11px;color:#4a4a4a;">0.0%</div>
<div class="t" style="left:998.2px;width:150px;text-align:right;transform:scaleX(0.91);transform-origin:right;top:570.09px;font-size:11px;line-height:11px;color:#4a4a4a;">0.0%</div>
<div class="t" style="left:1095.4px;width:150px;text-align:right;transform:scaleX(0.91);transform-origin:right;top:570.09px;font-size:11px;line-height:11px;color:#4a4a4a;">0.0%</div>
<div class="t" style="left:1204px;width:150px;text-align:right;transform:scaleX(0.91);transform-origin:right;top:570.09px;font-size:11px;line-height:11px;color:#4a4a4a;">23,463,239,463</div>
<div class="t" style="left:1288.7px;width:150px;text-align:right;transform:scaleX(0.91);transform-origin:right;top:570.09px;font-size:11px;line-height:11px;color:#4a4a4a;">3,757</div>
<div class="t" style="left:763.3px;transform:scaleX(0.913);transform-origin:left;top:592.79px;font-size:11px;line-height:11px;color:#4a4a4a;">AUTOCUST02 - Updated Auto Customer -...</div>
<div class="t" style="left:904.0999999999999px;width:150px;text-align:right;transform:scaleX(0.91);transform-origin:right;top:592.79px;font-size:11px;line-height:11px;color:#4a4a4a;">99.9%</div>
<div class="t" style="left:998.2px;width:150px;text-align:right;transform:scaleX(0.91);transform-origin:right;top:592.79px;font-size:11px;line-height:11px;color:#4a4a4a;">0.1%</div>
<div class="t" style="left:1095.4px;width:150px;text-align:right;transform:scaleX(0.91);transform-origin:right;top:592.79px;font-size:11px;line-height:11px;color:#4a4a4a;">0.0%</div>
<div class="t" style="left:1204px;width:150px;text-align:right;transform:scaleX(0.91);transform-origin:right;top:592.79px;font-size:11px;line-height:11px;color:#4a4a4a;">18,856,198</div>
<div class="t" style="left:1288.7px;width:150px;text-align:right;transform:scaleX(0.91);transform-origin:right;top:592.79px;font-size:11px;line-height:11px;color:#4a4a4a;">1,961</div>
<div class="r" style="left:759px;top:608.0000000000001px;width:685px;height:22.7px;background:#f9f9f9;"></div>
<div class="t" style="left:763.3px;transform:scaleX(0.868);transform-origin:left;top:615.49px;font-size:11px;line-height:11px;color:#4a4a4a;">ASY-TST - Test Name</div>
<div class="t" style="left:904.0999999999999px;width:150px;text-align:right;transform:scaleX(0.91);transform-origin:right;top:615.49px;font-size:11px;line-height:11px;color:#4a4a4a;">29.3%</div>
<div class="t" style="left:998.2px;width:150px;text-align:right;transform:scaleX(0.91);transform-origin:right;top:615.49px;font-size:11px;line-height:11px;color:#4a4a4a;">0.0%</div>
<div class="t" style="left:1095.4px;width:150px;text-align:right;transform:scaleX(0.91);transform-origin:right;top:615.49px;font-size:11px;line-height:11px;color:#4a4a4a;">0.1%</div>
<div class="t" style="left:1204px;width:150px;text-align:right;transform:scaleX(0.91);transform-origin:right;top:615.49px;font-size:11px;line-height:11px;color:#4a4a4a;">309,593</div>
<div class="t" style="left:1288.7px;width:150px;text-align:right;transform:scaleX(0.91);transform-origin:right;top:615.49px;font-size:11px;line-height:11px;color:#4a4a4a;">418</div>
<div class="t" style="left:763.3px;transform:scaleX(0.923);transform-origin:left;top:638.19px;font-size:11px;line-height:11px;color:#4a4a4a;">GM2 - GM Name</div>
<div class="t" style="left:904.0999999999999px;width:150px;text-align:right;transform:scaleX(0.91);transform-origin:right;top:638.19px;font-size:11px;line-height:11px;color:#4a4a4a;">2.1%</div>
<div class="t" style="left:998.2px;width:150px;text-align:right;transform:scaleX(0.91);transform-origin:right;top:638.19px;font-size:11px;line-height:11px;color:#4a4a4a;">0.0%</div>
<div class="t" style="left:1095.4px;width:150px;text-align:right;transform:scaleX(0.91);transform-origin:right;top:638.19px;font-size:11px;line-height:11px;color:#4a4a4a;">1.0%</div>
<div class="t" style="left:1204px;width:150px;text-align:right;transform:scaleX(0.91);transform-origin:right;top:638.19px;font-size:11px;line-height:11px;color:#4a4a4a;">206,106</div>
<div class="t" style="left:1288.7px;width:150px;text-align:right;transform:scaleX(0.91);transform-origin:right;top:638.19px;font-size:11px;line-height:11px;color:#4a4a4a;">223</div>
<div class="r" style="left:759px;top:653.4000000000002px;width:685px;height:22.7px;background:#f9f9f9;"></div>
<div class="t" style="left:763.3px;transform:scaleX(0.929);transform-origin:left;top:660.89px;font-size:11px;line-height:11px;color:#4a4a4a;">Y00001 - Customer 1 Minnesota</div>
<div class="t" style="left:904.0999999999999px;width:150px;text-align:right;transform:scaleX(0.91);transform-origin:right;top:660.89px;font-size:11px;line-height:11px;color:#4a4a4a;">21.6%</div>
<div class="t" style="left:998.2px;width:150px;text-align:right;transform:scaleX(0.91);transform-origin:right;top:660.89px;font-size:11px;line-height:11px;color:#4a4a4a;">0.0%</div>
<div class="t" style="left:1095.4px;width:150px;text-align:right;transform:scaleX(0.91);transform-origin:right;top:660.89px;font-size:11px;line-height:11px;color:#4a4a4a;">0.6%</div>
<div class="t" style="left:1204px;width:150px;text-align:right;transform:scaleX(0.91);transform-origin:right;top:660.89px;font-size:11px;line-height:11px;color:#4a4a4a;">118,793</div>
<div class="t" style="left:1288.7px;width:150px;text-align:right;transform:scaleX(0.91);transform-origin:right;top:660.89px;font-size:11px;line-height:11px;color:#4a4a4a;">389</div>
<div class="t" style="left:763.3px;transform:scaleX(0.9);transform-origin:left;top:683.59px;font-size:11px;line-height:11px;color:#4a4a4a;">RAB-CUST04 - Update 06-28PM</div>
<div class="t" style="left:904.0999999999999px;width:150px;text-align:right;transform:scaleX(0.91);transform-origin:right;top:683.59px;font-size:11px;line-height:11px;color:#4a4a4a;">2.7%</div>
<div class="t" style="left:998.2px;width:150px;text-align:right;transform:scaleX(0.91);transform-origin:right;top:683.59px;font-size:11px;line-height:11px;color:#4a4a4a;">0.6%</div>
<div class="t" style="left:1095.4px;width:150px;text-align:right;transform:scaleX(0.91);transform-origin:right;top:683.59px;font-size:11px;line-height:11px;color:#4a4a4a;">0.4%</div>
<div class="t" style="left:1204px;width:150px;text-align:right;transform:scaleX(0.91);transform-origin:right;top:683.59px;font-size:11px;line-height:11px;color:#4a4a4a;">61,194</div>
<div class="t" style="left:1288.7px;width:150px;text-align:right;transform:scaleX(0.91);transform-origin:right;top:683.59px;font-size:11px;line-height:11px;color:#4a4a4a;">190</div>
<div class="t" style="left:763.1px;transform:scaleX(0.91);transform-origin:left;top:510.99px;font-size:11px;line-height:11px;color:#555;">Customer</div>
<svg class="r" style="left:759px;top:545.2199999999999px" width="12" height="12"><path d="M1.2 5H10.8L6 0.6Z M1.2 6.4H10.8L6 10.8Z" fill="#b3b3b3"/></svg>
<div class="t" style="left:972.4px;transform:scaleX(0.91);transform-origin:left;top:510.99px;font-size:11px;line-height:11px;color:#555;">High Erosion Pct</div>
<svg class="r" style="left:967.9px;top:544.8px" width="12" height="12"><path d="M1.2 5H10.8L6 0.6Z M1.2 6.4H10.8L6 10.8Z" fill="#b3b3b3"/></svg>
<div class="t" style="left:1064px;transform:scaleX(0.91);transform-origin:left;top:510.99px;font-size:11px;line-height:11px;color:#555;">Some Erosion Pct</div>
<svg class="r" style="left:1059.5px;top:544.8px" width="12" height="12"><path d="M1.2 5H10.8L6 0.6Z M1.2 6.4H10.8L6 10.8Z" fill="#b3b3b3"/></svg>
<div class="t" style="left:1157.8px;transform:scaleX(0.91);transform-origin:left;top:510.99px;font-size:11px;line-height:11px;color:#555;">Unknown Erosion</div>
<div class="t" style="left:1157.8px;transform:scaleX(0.91);transform-origin:left;top:525.79px;font-size:11px;line-height:11px;color:#555;">Pct</div>
<svg class="r" style="left:1153.3px;top:544.8px" width="12" height="12"><path d="M1.2 5H10.8L6 0.6Z M1.2 6.4H10.8L6 10.8Z" fill="#b3b3b3"/></svg>
<div class="t" style="left:1254.3px;transform:scaleX(0.91);transform-origin:left;top:510.99px;font-size:11px;line-height:11px;color:#555;">Invcd Net Amt –</div>
<div class="t" style="left:1254.3px;transform:scaleX(0.91);transform-origin:left;top:525.79px;font-size:11px;line-height:11px;color:#555;">Company (Total)</div>
<svg class="r" style="left:1251.5px;top:550.4px" width="12" height="8"><path d="M0 0H10.2L5.1 6Z" fill="#1a9bf0"/></svg>
<div class="t" style="left:1364px;transform:scaleX(0.91);transform-origin:left;top:510.99px;font-size:11px;line-height:11px;color:#555;">Invcd Qty (Total)</div>
<svg class="r" style="left:1359.5px;top:544.8px" width="12" height="12"><path d="M1.2 5H10.8L6 0.6Z M1.2 6.4H10.8L6 10.8Z" fill="#b3b3b3"/></svg>
<div class="r" style="left:1443.8px;top:503.2px;width:11.8px;height:191px;background:#f1f1f1;"></div>
<div class="r" style="left:1445px;top:515.3px;width:9px;height:57.3px;background:#c1c1c1;"></div>
<svg class="r" style="left:1445.7px;top:507px" width="8" height="5"><path d="M1.5 3.8H6.5L4 1.2Z" fill="#888"/></svg>
<svg class="r" style="left:1445.7px;top:685.5px" width="8" height="5"><path d="M1.5 1.2H6.5L4 3.8Z" fill="#444"/></svg>
</body></html>
